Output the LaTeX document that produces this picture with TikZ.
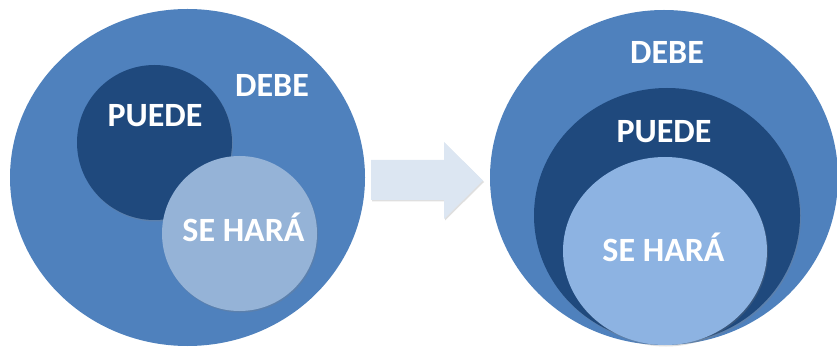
\documentclass[tikz,border=0pt]{standalone}
\usepackage{fontspec}
\setmainfont{Carlito}
\usepackage{xcolor}
\usepackage{tikz}
\usetikzlibrary{positioning, shapes.geometric, shadows}

\definecolor{debeblue}{HTML}{4F81BD}
\definecolor{puedeblue}{HTML}{1F497D}
\definecolor{haraleft}{HTML}{95B3D7}
\definecolor{hararight}{HTML}{8DB3E2}
\definecolor{arrowblue}{HTML}{DCE6F2}

\begin{document}
\begin{tikzpicture}[x=1pt, y=-1pt,
    blob/.style={ellipse, inner sep=0pt, draw=none},
    shade/.style={drop shadow={opacity=0.25, shadow xshift=1pt, shadow yshift=-1.5pt}},
    word/.style={text=white, font=\fontsize{34}{40}\selectfont\bfseries, anchor=base, inner sep=0pt}
]
\useasboundingbox (0,0) rectangle (837,347);

% left: overlapping sets
\node[blob, fill=debeblue, minimum width=355pt, minimum height=337pt](debeL) at (187.5,177.5){};
\node[blob, fill=puedeblue, shade, minimum size=155pt](puedeL) at (154.5,142.5){};
\node[blob, fill=haraleft, shade, minimum size=155pt](haraL) at (239.5,233.5){};
\node[word](debeLt) at (272,97){DEBE};
\node[word](puedeLt) at (155,127){PUEDE};
\node[word](haraLt) at (243.5,241){SE HARÁ};

% arrow
\fill[arrowblue, shade] (371,160) -- (444,160) -- (444,142) -- (483,180.5)
    -- (444,219) -- (444,200) -- (371,200) -- cycle;

% right: nested sets
\node[blob, fill=debeblue, minimum width=348pt, minimum height=335pt](debeR) at (664,177.5){};
\node[blob, fill=puedeblue, shade, minimum width=266pt, minimum height=255pt](puedeR) at (667,215.5){};
\node[blob, fill=hararight, shade, minimum width=204pt, minimum height=188pt](haraR) at (665,251){};
\node[word](debeRt) at (667,64){DEBE};
\node[word](puedeRt) at (664,143){PUEDE};
\node[word](haraRt) at (663.5,261){SE HARÁ};
\end{tikzpicture}
\end{document}
